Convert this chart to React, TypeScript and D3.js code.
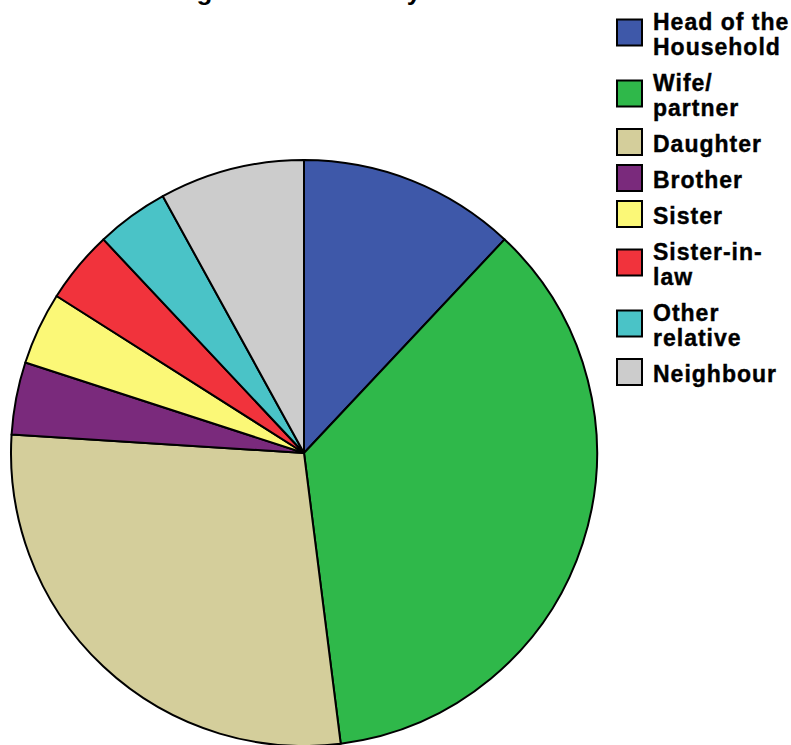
import React from "react";
import * as d3 from "d3";

const categories = [
  "Head of the Household",
  "Wife/ partner",
  "Daughter",
  "Brother",
  "Sister",
  "Sister-in- law",
  "Other relative",
  "Neighbour",
];
const legendLines = [
  ["Head of the", "Household"],
  ["Wife/", "partner"],
  ["Daughter"],
  ["Brother"],
  ["Sister"],
  ["Sister-in-", "law"],
  ["Other", "relative"],
  ["Neighbour"],
];
const values = [3, 9, 7, 1, 1, 1, 1, 2];
const colors = [
  "#3E58A9",
  "#2FB84A",
  "#D4CE9B",
  "#7A2A7C",
  "#FBF877",
  "#F1333C",
  "#4AC3C7",
  "#CCCCCC",
];
const title = "Who is looking after the money";

export default function App() {
  const W = 791;
  const H = 745;
  const cx = 304;
  const cy = 453;
  const r = 293;
  const pie = d3
    .pie<number>()
    .sort(null)
    .value((d) => d)
    .startAngle(0)
    .endAngle(2 * Math.PI);
  const arcs = pie(values);
  const arc = d3.arc<d3.PieArcDatum<number>>().innerRadius(0).outerRadius(r);

  const lineH = 25;
  let cursor = 2;
  const items = legendLines.map((lines, i) => {
    const h = 11 + lineH * lines.length;
    const center = cursor + h / 2;
    cursor += h;
    return { lines, center, i };
  });

  const font = "'Liberation Sans', Arial, Helvetica, sans-serif";
  return (
    <svg
      width={W}
      height={H}
      style={{ position: "absolute", left: 0, top: 0, display: "block" }}
    >
      <rect width={W} height={H} fill="#ffffff" />
      <text
        x={21}
        y={0}
        fontFamily={font}
        fontWeight="bold"
        fontSize={26}
        letterSpacing={0.5}
        fill="#000"
      >
        {title}
      </text>
      <g transform={`translate(${cx},${cy})`}>
        {arcs.map((a, i) => (
          <path
            key={categories[i]}
            d={arc(a) || ""}
            fill={colors[i]}
            stroke="#000"
            strokeWidth={2}
            strokeLinejoin="round"
          />
        ))}
      </g>
      <g>
        {items.map(({ lines, center, i }) => (
          <g key={categories[i]}>
            <rect
              x={617}
              y={center - 13}
              width={25}
              height={26}
              fill={colors[i]}
              stroke="#000"
              strokeWidth={2}
            />
            {lines.map((ln, j) => (
              <text
                key={j}
                x={653}
                y={center + (j - (lines.length - 1) / 2) * lineH}
                dy="0.42em"
                fontFamily={font}
                fontWeight="bold"
                fontSize={23}
                letterSpacing={1}
                fill="#000"
                stroke="#000"
                strokeWidth={0.4}
              >
                {ln}
              </text>
            ))}
          </g>
        ))}
      </g>
    </svg>
  );
}
